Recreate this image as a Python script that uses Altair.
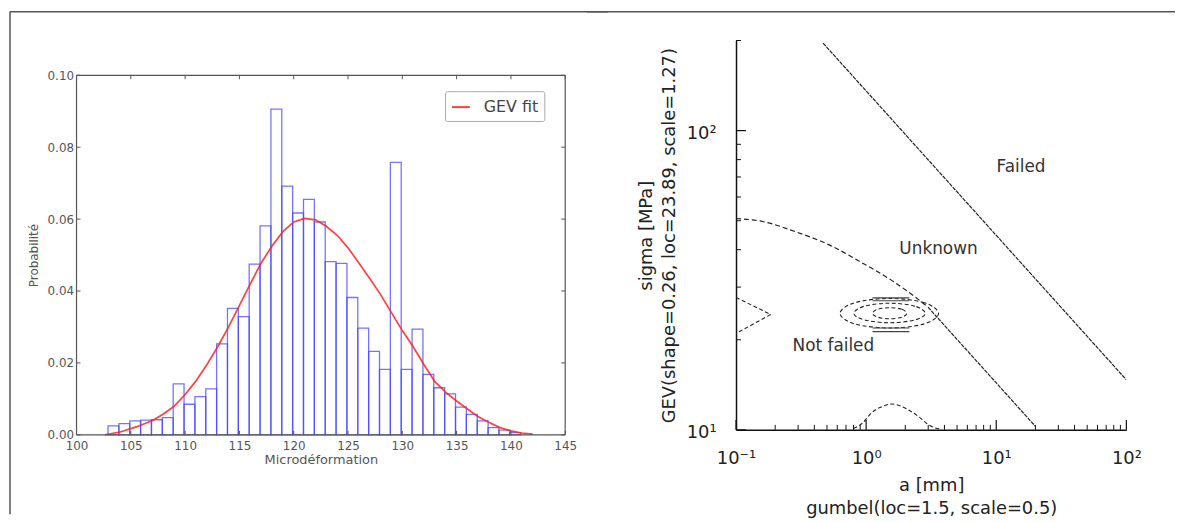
import altair as alt
import pandas as pd

FONT = "DejaVu Sans"

# ---------------- left panel data (histogram + GEV fit) ----------------
bin_left = [102.9, 103.9, 104.9, 105.9, 106.9, 107.9, 108.9, 109.9, 110.9, 111.9,
            112.9, 113.9, 114.9, 115.9, 116.9, 117.9, 118.9, 119.9, 120.9, 121.9,
            122.9, 123.9, 124.9, 125.9, 126.9, 127.9, 128.9, 129.9, 130.9, 131.9,
            132.9, 133.9, 134.9, 135.9, 136.9, 137.9, 138.9, 139.9]
bin_width = 1.0
probabilite = [0.0025, 0.0031, 0.0039, 0.0041, 0.0042, 0.0048, 0.0142, 0.0085, 0.0106, 0.0128,
               0.0253, 0.0352, 0.0329, 0.0475, 0.0581, 0.0906, 0.0692, 0.0617, 0.0655, 0.0592,
               0.0482, 0.0477, 0.0382, 0.0297, 0.0232, 0.0182, 0.0758, 0.0182, 0.0294, 0.0168,
               0.0131, 0.0114, 0.0077, 0.0057, 0.0039, 0.0020, 0.0013, 0.0006]
fit_x = [102.6, 104, 105.5, 107, 108, 109, 110, 111, 112, 113, 114, 115, 116, 117, 118,
         119, 120, 121, 122, 123, 124, 125, 126, 127, 128, 129, 130, 131, 132, 133, 134,
         135, 136, 137, 138, 139, 140, 141, 142]
fit_y = [0.0, 0.0008, 0.0022, 0.0040, 0.0058, 0.0080, 0.0112, 0.0150, 0.0195, 0.0245,
         0.0300, 0.0360, 0.0420, 0.0478, 0.0525, 0.0565, 0.0592, 0.0602, 0.0598, 0.0580,
         0.0555, 0.0520, 0.0478, 0.0435, 0.0390, 0.0340, 0.0290, 0.0245, 0.0195, 0.0148,
         0.0118, 0.0094, 0.0072, 0.0050, 0.0034, 0.0020, 0.0011, 0.0005, 0.0002]
left_x_ticks = [100, 105, 110, 115, 120, 125, 130, 135, 140, 145]
left_y_ticks = [0.0, 0.02, 0.04, 0.06, 0.08, 0.10]

# ---------------- right panel data (failure diagram) ----------------
failed_a = [0.467, 100.0]
failed_s = [196.0, 14.7]
bound_curve_a = [0.1, 0.16, 0.287, 0.515, 0.927, 1.66, 2.23, 2.99]
bound_curve_s = [50.85, 49.7, 45.9, 41.6, 36.2, 31.1, 28.4, 25.7]
bound_line_a = [2.99, 19.9]
bound_line_s = [25.7, 10.3]
ring_outer_a = [3.60, 2.80, 1.52, 0.815, 0.63, 0.815, 1.52, 2.80]
ring_outer_s = [24.5, 26.6, 27.5, 26.6, 24.5, 22.6, 21.9, 22.6]
ring_mid_a = [2.85, 2.37, 1.52, 0.97, 0.805, 0.97, 1.52, 2.37]
ring_mid_s = [24.5, 25.9, 26.5, 25.9, 24.5, 23.3, 22.8, 23.3]
ring_in_a = [2.05, 1.88, 1.52, 1.23, 1.12, 1.23, 1.52, 1.88]
ring_in_s = [24.5, 25.3, 25.6, 25.3, 24.5, 23.8, 23.5, 23.8]
flat_a = [1.12, 2.15]
flat_s = [27.6, 27.0, 21.9, 21.3]
tri_a = [0.1, 0.185, 0.1]
tri_s = [27.7, 24.3, 21.0]
bump_a = [0.80, 0.93, 1.10, 1.35, 1.57, 1.85, 2.23, 2.65, 2.97, 3.4, 3.8]
bump_s = [10.1, 10.5, 11.4, 12.0, 12.2, 12.0, 11.5, 10.9, 10.45, 10.15, 10.05]
region_a = [15.5, 3.6, 0.56]
region_s = [75.5, 40.1, 19.0]
region_labels = ["Failed", "Unknown", "Not failed"]
right_x_major = [0.1, 1, 10, 100]
right_x_minor = [0.2, 0.3, 0.4, 0.5, 0.6, 0.7, 0.8, 0.9, 2, 3, 4, 5, 6, 7, 8, 9,
                 20, 30, 40, 50, 60, 70, 80, 90]
right_y_major = [10, 100]
right_y_minor = [20, 30, 40, 50, 60, 70, 80, 90, 200]

# ---------------- sizes ----------------
W_L, H_L = 492, 397      # left cell; data box occupies y in [TOP_L, H_L]
TOP_L = 35
W_R, H_R = 393, 392
GAP = 172
GRAY = "#555555"
DARK = "#222222"

# ================= LEFT PANEL =================
xs_l = alt.Scale(domain=[100, 145], nice=False, zero=False)
ys_l = alt.Scale(domain=[0, 0.1], nice=False, zero=False, range=[H_L, TOP_L])
ax_lx = alt.Axis(values=left_x_ticks, format="d", tickSize=0, domain=False, grid=False,
                 labelFont=FONT, labelFontSize=12, labelColor=GRAY, labelPadding=6,
                 labelFlush=False, labelOverlap=False,
                 title="Microdéformation", titleFont=FONT, titleFontSize=13,
                 titleFontWeight="normal", titleColor=GRAY, titlePadding=2)
ax_ly = alt.Axis(values=left_y_ticks, format=".2f", tickSize=0, domain=False, grid=False,
                 labelFont=FONT, labelFontSize=12, labelColor=GRAY, labelPadding=3,
                 labelFlush=False, labelOverlap=False,
                 title="Probabilité", titleFont=FONT, titleFontSize=12,
                 titleFontWeight="normal", titleColor=GRAY, titlePadding=7)

def LX(f):
    return alt.X(f, type="quantitative", scale=xs_l, axis=ax_lx)

def LY(f):
    return alt.Y(f, type="quantitative", scale=ys_l, axis=ax_ly)

bars_df = pd.DataFrame({
    "x0": bin_left,
    "x1": [b + bin_width for b in bin_left],
    "p": probabilite,
    "p0": [0.0] * len(bin_left),
})
fit_df = pd.DataFrame({"x": fit_x, "y": fit_y, "serie": ["GEV fit"] * len(fit_x)})
lxt = pd.DataFrame({"v": left_x_ticks})
lyt = pd.DataFrame({"v": left_y_ticks})
one = pd.DataFrame({"k": [0]})
box_x = pd.DataFrame({"v": [100, 145]})
box_y = pd.DataFrame({"v": [0.0, 0.1]})

hist = alt.Chart(bars_df).mark_rect(
    fillOpacity=0, stroke="#4646ff", strokeWidth=1.3, strokeOpacity=0.75
).encode(x=LX("x0"), x2="x1", y=LY("p"), y2="p0")

fit = alt.Chart(fit_df).mark_line(strokeWidth=1.7, opacity=0.85).encode(
    x=LX("x"), y=LY("y"), order="x:Q",
    color=alt.Color("serie:N", scale=alt.Scale(range=["#ff2020"]),
                    legend=alt.Legend(orient="none", legendX=371, legendY=TOP_L + 16, title=None,
                                      strokeColor="#aaaaaa", fillColor="white", padding=6,
                                      cornerRadius=2, symbolType="stroke", symbolSize=324,
                                      symbolStrokeWidth=2, labelFont=FONT, labelFontSize=16,
                                      labelColor="#444444", labelOffset=13)),
)

# axes box (frame) of the histogram
box_h = alt.Chart(box_y).mark_rule(color=GRAY, strokeWidth=1.2).encode(
    y=LY("v"), x=alt.value(0), x2=alt.value(W_L))
box_v = alt.Chart(box_x).mark_rule(color=GRAY, strokeWidth=1.2).encode(
    x=LX("v"), y=alt.value(TOP_L), y2=alt.value(H_L))

tk_b = alt.Chart(lxt).mark_rule(color=GRAY).encode(x=LX("v"), y=alt.value(H_L), y2=alt.value(H_L - 4))
tk_t = alt.Chart(lxt).mark_rule(color=GRAY).encode(x=LX("v"), y=alt.value(TOP_L), y2=alt.value(TOP_L + 4))
tk_l = alt.Chart(lyt).mark_rule(color=GRAY).encode(y=LY("v"), x=alt.value(0), x2=alt.value(4))
tk_r = alt.Chart(lyt).mark_rule(color=GRAY).encode(y=LY("v"), x=alt.value(W_L - 4), x2=alt.value(W_L))

# outer frame lines of the figure (overlapping top segments, left edge)
frame_top_l = alt.Chart(one).mark_rule(color=GRAY, strokeWidth=1.5).encode(
    x=alt.value(-67), x2=alt.value(535), y=alt.value(-29))
frame_left = alt.Chart(one).mark_rule(color=GRAY, strokeWidth=1.5).encode(
    x=alt.value(-67), y=alt.value(-29), y2=alt.value(477))

left = alt.layer(frame_top_l, frame_left, hist, fit, box_h, box_v,
                 tk_b, tk_t, tk_l, tk_r).properties(width=W_L, height=H_L)

# ================= RIGHT PANEL =================
xs_r = alt.Scale(type="log", domain=[0.1, 100], nice=False)
ys_r = alt.Scale(type="log", domain=[10, 200], nice=False)
ax_rx = alt.Axis(values=right_x_major,
                 labelExpr="datum.value < 0.5 ? '10⁻¹' : datum.value < 5 ? '10⁰' : datum.value < 50 ? '10¹' : '10²'",
                 tickSize=0, grid=False, domainColor="#111111", domainWidth=1.5,
                 labelFont=FONT, labelFontSize=18, labelColor=DARK, labelPadding=20,
                 labelFlush=False, labelOverlap=False,
                 title=["a [mm]", "gumbel(loc=1.5, scale=0.5)"], titleFont=FONT,
                 titleFontSize=18, titleFontWeight="normal", titleColor=DARK,
                 titleLineHeight=23, titlePadding=9)
ax_ry = alt.Axis(values=right_y_major,
                 labelExpr="datum.value < 50 ? '10¹' : '10²'",
                 tickSize=0, grid=False, domainColor="#111111", domainWidth=1.5,
                 labelFont=FONT, labelFontSize=18, labelColor=DARK, labelPadding=20,
                 labelFlush=False, labelOverlap=False, labelOffset=3,
                 title=["sigma [MPa]", "GEV(shape=0.26, loc=23.89, scale=1.27)"],
                 titleFont=FONT, titleFontSize=18, titleFontWeight="normal",
                 titleColor=DARK, titleLineHeight=23, titlePadding=8)

def RX(f):
    return alt.X(f, type="quantitative", scale=xs_r, axis=ax_rx)

def RY(f):
    return alt.Y(f, type="quantitative", scale=ys_r, axis=ax_ry)

failed_df = pd.DataFrame({"a": failed_a, "s": failed_s, "k": range(len(failed_a))})
curve_df = pd.DataFrame({"a": bound_curve_a, "s": bound_curve_s, "k": range(len(bound_curve_a))})
bline_df = pd.DataFrame({"a": bound_line_a, "s": bound_line_s, "k": range(len(bound_line_a))})
rings = []
for name, ra, rs in [("outer", ring_outer_a, ring_outer_s),
                     ("mid", ring_mid_a, ring_mid_s),
                     ("in", ring_in_a, ring_in_s)]:
    for i, (aa, ss) in enumerate(zip(ra, rs)):
        rings.append({"ring": name, "k": i, "a": aa, "s": ss})
rings_df = pd.DataFrame(rings)
flats = []
for j, ss in enumerate(flat_s):
    for i, aa in enumerate(flat_a):
        flats.append({"seg": j, "k": i, "a": aa, "s": ss})
flat_df = pd.DataFrame(flats)
tri_df = pd.DataFrame({"a": tri_a, "s": tri_s, "k": range(len(tri_a))})
bump_df = pd.DataFrame({"a": bump_a, "s": bump_s, "k": range(len(bump_a))})
lab_df = pd.DataFrame({"a": region_a, "s": region_s, "t": region_labels})

l_failed = alt.Chart(failed_df).mark_line(color=DARK, strokeWidth=1.2, strokeDash=[4, 1], clip=True).encode(
    x=RX("a"), y=RY("s"), order="k:Q")
l_curve = alt.Chart(curve_df).mark_line(color=DARK, strokeWidth=1.2, strokeDash=[5, 3],
                                        interpolate="monotone", clip=True).encode(
    x=RX("a"), y=RY("s"), order="k:Q")
l_bline = alt.Chart(bline_df).mark_line(color=DARK, strokeWidth=1.2, strokeDash=[4, 1], clip=True).encode(
    x=RX("a"), y=RY("s"), order="k:Q")
l_rings = alt.Chart(rings_df).mark_line(color=DARK, strokeWidth=1.1, strokeDash=[4, 2.5],
                                        interpolate="cardinal-closed", clip=True).encode(
    x=RX("a"), y=RY("s"), detail="ring:N", order="k:Q")
l_flat = alt.Chart(flat_df).mark_line(color="#444444", strokeWidth=1.2, clip=True).encode(
    x=RX("a"), y=RY("s"), detail="seg:N", order="k:Q")
l_tri = alt.Chart(tri_df).mark_line(color=DARK, strokeWidth=1.1, strokeDash=[4, 2.5], clip=True).encode(
    x=RX("a"), y=RY("s"), order="k:Q")
l_bump = alt.Chart(bump_df).mark_line(color=DARK, strokeWidth=1.1, strokeDash=[4, 2.5],
                                      interpolate="monotone", clip=True).encode(
    x=RX("a"), y=RY("s"), order="k:Q")
t_regions = alt.Chart(lab_df).mark_text(font=FONT, fontSize=17, color="#333333").encode(
    x=RX("a"), y=RY("s"), text="t:N")

rxM = pd.DataFrame({"v": right_x_major})
rxm = pd.DataFrame({"v": right_x_minor})
ryM = pd.DataFrame({"v": right_y_major})
rym = pd.DataFrame({"v": right_y_minor})
r_tk_xM = alt.Chart(rxM).mark_rule(color="#111111", strokeWidth=1.2).encode(
    x=RX("v"), y=alt.value(H_R), y2=alt.value(H_R - 10))
r_tk_xm = alt.Chart(rxm).mark_rule(color="#111111", strokeWidth=1).encode(
    x=RX("v"), y=alt.value(H_R), y2=alt.value(H_R - 5))
r_tk_yM = alt.Chart(ryM).mark_rule(color="#111111", strokeWidth=1.2).encode(
    y=RY("v"), x=alt.value(0), x2=alt.value(10))
r_tk_ym = alt.Chart(rym).mark_rule(color="#111111", strokeWidth=1).encode(
    y=RY("v"), x=alt.value(0), x2=alt.value(5))

frame_top_r = alt.Chart(one).mark_rule(color=GRAY, strokeWidth=1.5).encode(
    x=alt.value(-150), x2=alt.value(442), y=alt.value(-29))

right = alt.layer(frame_top_r, l_failed, l_curve, l_bline, l_rings, l_flat, l_tri, l_bump,
                  t_regions, r_tk_xM, r_tk_xm, r_tk_yM, r_tk_ym).properties(
    width=W_R, height=H_R)

chart = alt.hconcat(left, right, spacing=GAP, bounds="flush").resolve_legend(
    color="independent"
).properties(padding=0).configure(font=FONT).configure_view(stroke="transparent")

chart.save("out.html", embed_options={"renderer": "svg", "actions": False})
